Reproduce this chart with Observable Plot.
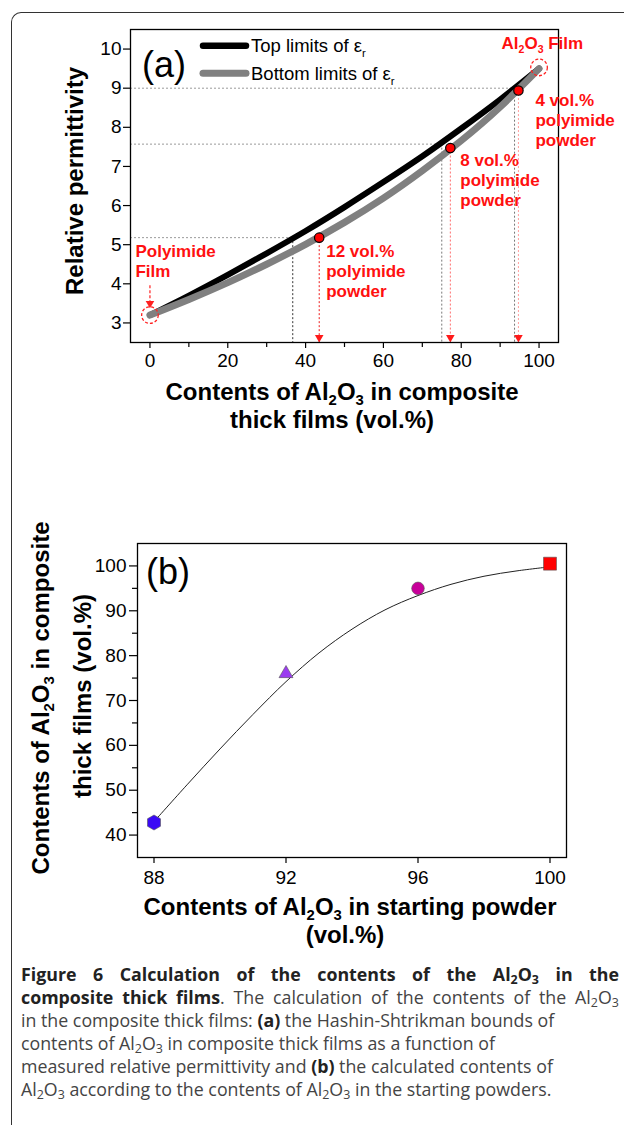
<!DOCTYPE html>
<html><head><meta charset="utf-8">
<script src="https://cdn.jsdelivr.net/npm/d3@7"></script>
<script src="https://cdn.jsdelivr.net/npm/@observablehq/plot@0.6"></script>
<style>
html,body{margin:0;padding:0;background:#fff;overflow:hidden;width:624px;height:1125px}
#page{position:relative;width:624px;height:1125px;overflow:hidden;background:#fff}
#box{position:absolute;left:11px;top:12px;width:800px;height:1300px;border-top:1.5px solid #333;border-left:1.5px solid #333;border-top-left-radius:10px}
#pa{position:absolute;left:0;top:0}
#pb{position:absolute;left:0;top:460px}
#cap{position:absolute;left:21px;top:963px;width:598px;font-family:"Open Sans",sans-serif;font-size:17.8px;line-height:23px;color:#444}
#cap div{white-space:nowrap}
#cap .j{display:flex;justify-content:space-between}
#cap b{color:#222;font-weight:700}
#cap sub{font-size:70%;vertical-align:-0.25em;line-height:0}
svg text.tick{font-size:19px}
</style></head>
<body><div id="page"><div id="box"></div><div id="pa"></div><div id="pb"></div>
<div id="cap">
<div class="j"><b>Figure</b><b>6</b><b>Calculation</b><b>of</b><b>the</b><b>contents</b><b>of</b><b>the</b><b>Al<sub>2</sub>O<sub>3</sub></b><b>in</b><b>the</b></div>
<div class="j"><b>composite</b><b>thick</b><span><b>films</b>.</span><span>The</span><span>calculation</span><span>of</span><span>the</span><span>contents</span><span>of</span><span>the</span><span>Al<sub>2</sub>O<sub>3</sub></span></div>
<div>in the composite thick films: <b>(a)</b> the Hashin-Shtrikman bounds of</div>
<div>contents of Al<sub>2</sub>O<sub>3</sub> in composite thick films as a function of</div>
<div>measured relative permittivity and <b>(b)</b> the calculated contents of</div>
<div>Al<sub>2</sub>O<sub>3</sub> according to the contents of Al<sub>2</sub>O<sub>3</sub> in the starting powders.</div>
</div>
</div>
<script>
// ---------- Panel (a) data ----------
const alContent   = [0, 10, 20, 30, 40, 50, 60, 70, 80, 90, 100];
const topLimit    = [3.20, 3.70, 4.23, 4.78, 5.35, 5.96, 6.60, 7.26, 7.97, 8.71, 9.50];
const bottomLimit = [3.20, 3.60, 4.03, 4.50, 5.01, 5.57, 6.19, 6.89, 7.66, 8.52, 9.50];
const sampleX = [43.5, 77.2, 94.7];
const sampleY = [5.18, 7.47, 8.94];
const sampleLabels = ["12 vol.%\npolyimide\npowder", "8 vol.%\npolyimide\npowder", "4 vol.%\npolyimide\npowder"];
const guideY = [5.18, 7.57, 9.0];
const guideX = [36.7, 75.0, 93.7];
const filmX = [0, 100];
const filmY = [3.2, 9.53];
const filmArrowY = [3.95, 3.5];
const xTicksA = [0, 20, 40, 60, 80, 100];
const xMinorA = [10, 30, 50, 70, 90];
const yTicksA = [3, 4, 5, 6, 7, 8, 9, 10];
const xDomainA = [-5, 105];
const yDomainA = [2.5, 10.5];

// ---------- Panel (b) data ----------
const startAl = [88, 92, 96, 100];
const filmAl  = [42.8, 76.0, 95.0, 100.5];
const fitX = [88, 89, 90, 91, 92, 93, 94, 95, 96, 97, 98, 99, 100];
const fitY = [43.0, 51.2, 59.2, 66.9, 74.2, 80.6, 85.9, 90.2, 93.4, 95.9, 97.7, 98.9, 99.8];
const xTicksB = [88, 92, 96, 100];
const yTicksB = [40, 50, 60, 70, 80, 90, 100];
const yMinorB = [45, 55, 65, 75, 85, 95];
const xDomainB = [87.5, 100.5];
const yDomainB = [35, 105];

// ---------- styles ----------
const FONT = "'Liberation Sans', Arial, sans-serif";
const redShades = ["#ee1c1c", "#ff6b6b", "#ff9c9c"];
const markerStyle = [
  {symbol: "hexagon", fill: "#3a0af5", r: 6.5},
  {symbol: "triangle", fill: "#9b3cf0", r: 5.2},
  {symbol: "circle", fill: "#c8009a", r: 6.3},
  {symbol: "square", fill: "#ff0000", r: 7.3}
];

const curveA = alContent.map((x, i) => ({x, top: topLimit[i], bottom: bottomLimit[i]}));
const samples = sampleX.map((x, i) => ({x, y: sampleY[i], label: sampleLabels[i], c: redShades[i]}));
const guides = guideY.map((y, i) => ({y, x: guideX[i]}));
const films = filmX.map((x, i) => ({x, y: filmY[i]}));

function addText(svg, o) {
  const t = svg.append("text")
    .attr("font-family", FONT)
    .attr("font-size", o.size)
    .attr("font-weight", o.weight || "normal")
    .attr("fill", o.fill || "#000")
    .attr("text-anchor", o.anchor || "start")
    .attr("transform", `translate(${o.x},${o.y})` + (o.rotate ? ` rotate(${o.rotate})` : ""));
  const sh = o.subShift || o.size * 0.3;
  let prevSub = false;
  o.parts.forEach(p => {
    const isSub = Array.isArray(p);
    const s = t.append("tspan").text(isSub ? p[0] : p);
    if (isSub) s.attr("font-size", o.size * 0.62).attr("dy", sh);
    else if (prevSub) s.attr("dy", -sh);
    prevSub = isSub;
  });
  return t;
}

const axisFont = {fontSize: 19, fontFamily: FONT};

// ---------- Panel (a) ----------
const plotA = Plot.plot({
  width: 624, height: 460,
  marginLeft: 130, marginRight: 66, marginTop: 29, marginBottom: 118,
  style: {fontFamily: FONT, fontSize: "19px", color: "#000", background: "transparent", overflow: "visible"},
  x: {domain: xDomainA},
  y: {domain: yDomainA},
  marks: [
    Plot.ruleY(guides, {y: "y", x1: xDomainA[0], x2: "x", stroke: "#9a9a9a", strokeWidth: 1, strokeDasharray: "2,2"}),
    Plot.ruleX(guides, {x: "x", y1: "y", y2: yDomainA[0], stroke: d => d.x < 50 ? "#333" : "#777", strokeWidth: 1, strokeDasharray: "2,2"}),
    Plot.ruleX(samples, {x: "x", y1: "y", y2: yDomainA[0], stroke: "c", strokeWidth: 1, strokeDasharray: "2,2"}),
    Plot.dot(samples, {x: "x", y: yDomainA[0], symbol: "triangle", r: 3.2, rotate: 180, fill: "#ff1a1a", dy: -5}),
    Plot.line(curveA, {x: "x", y: "top", curve: "natural", stroke: "#000", strokeWidth: 6, strokeLinecap: "round"}),
    Plot.line(curveA, {x: "x", y: "bottom", curve: "natural", stroke: "#808080", strokeWidth: 7, strokeLinecap: "round"}),
    Plot.frame({stroke: "#000", strokeWidth: 1.3}),
    Plot.axisY({ticks: yTicksA, tickSize: 7, tickPadding: 2, label: null, strokeWidth: 1.2, ...axisFont}),
    Plot.axisX({ticks: xTicksA, tickSize: 6, tickPadding: 5, label: null, strokeWidth: 1.2, ...axisFont}),
    Plot.axisX({ticks: xMinorA, tickSize: 5, tickFormat: () => "", label: null, strokeWidth: 1.2}),
    Plot.dot(samples, {x: "x", y: "y", r: 4.7, fill: "#ff0000", stroke: "#000", strokeWidth: 1.2}),
    Plot.dot(films, {x: "x", y: "y", r: 8.3, fill: "none", stroke: "#ff2020", strokeWidth: 1.3, strokeDasharray: "3,2"}),
    Plot.ruleX([films[0]], {x: "x", y1: filmArrowY[0], y2: filmArrowY[1], stroke: "#ff2020", strokeWidth: 1.2, strokeDasharray: "3,2"}),
    Plot.dot([films[0]], {x: "x", y: filmArrowY[1], symbol: "triangle", r: 3.2, rotate: 180, fill: "#ff2020"}),
    Plot.text([films[0]], {x: "x", y: "y", text: () => "Polyimide\nFilm", dx: -14.5, dy: -72.5, textAnchor: "start", lineAnchor: "top", lineHeight: 1.18, fontSize: 17, fontWeight: "bold", fill: "#ff1010"}),
    Plot.text([samples[0]], {x: "x", y: "y", text: "label", dx: 7, dy: 5, textAnchor: "start", lineAnchor: "top", lineHeight: 1.18, fontSize: 17, fontWeight: "bold", fill: "#ff1010"}),
    Plot.text([samples[1]], {x: "x", y: "y", text: "label", dx: 10, dy: 3.5, textAnchor: "start", lineAnchor: "top", lineHeight: 1.18, fontSize: 17, fontWeight: "bold", fill: "#ff1010"}),
    Plot.text([samples[2]], {x: "x", y: "y", text: "label", dx: 17, dy: 1, textAnchor: "start", lineAnchor: "top", lineHeight: 1.18, fontSize: 17, fontWeight: "bold", fill: "#ff1010"})
  ]
});
document.getElementById("pa").appendChild(plotA);
const svgA = d3.select(plotA);
const sxA = plotA.scale("x"), syA = plotA.scale("y");

// legend
svgA.append("line").attr("x1", 203).attr("x2", 246).attr("y1", 45.7).attr("y2", 45.7)
  .attr("stroke", "#000").attr("stroke-width", 6.5).attr("stroke-linecap", "round");
svgA.append("line").attr("x1", 203).attr("x2", 246).attr("y1", 73.3).attr("y2", 73.3)
  .attr("stroke", "#808080").attr("stroke-width", 7).attr("stroke-linecap", "round");
addText(svgA, {x: 251, y: 52, size: 18.5, parts: ["Top limits of ε", ["r"]], subShift: 5});
addText(svgA, {x: 251, y: 80, size: 18.5, parts: ["Bottom limits of ε", ["r"]], subShift: 5});
// panel tag
addText(svgA, {x: 142, y: 77, size: 36, parts: ["(a)"]});
// Al2O3 film label
addText(svgA, {x: sxA.apply(filmX[1]) - 37, y: syA.apply(filmY[1]) - 17.5, size: 17, weight: "bold", fill: "#ff1010",
  parts: ["Al", ["2"], "O", ["3"], " Film"], subShift: 4});
// axis titles
addText(svgA, {x: 83, y: 181, size: 24, weight: "bold", anchor: "middle", rotate: -90, parts: ["Relative permittivity"]});
addText(svgA, {x: 342, y: 400, size: 24, weight: "bold", anchor: "middle", parts: ["Contents of Al", ["2"], "O", ["3"], " in composite"], subShift: 5});
addText(svgA, {x: 332, y: 428, size: 24, weight: "bold", anchor: "middle", parts: ["thick films (vol.%)"]});

// ---------- Panel (b) ----------
const pointsB = startAl.map((x, i) => ({x, y: filmAl[i], ...markerStyle[i]}));
const fitB = fitX.map((x, i) => ({x, y: fitY[i]}));
const plotB = Plot.plot({
  width: 624, height: 500,
  marginLeft: 137, marginRight: 58, marginTop: 83, marginBottom: 103,
  style: {fontFamily: FONT, fontSize: "19px", color: "#000", background: "transparent", overflow: "visible"},
  x: {domain: xDomainB},
  y: {domain: yDomainB},
  r: {type: "identity"},
  symbol: {type: "identity"},
  marks: [
    Plot.frame({stroke: "#000", strokeWidth: 1.3}),
    Plot.axisY({ticks: yTicksB, tickSize: 8, tickPadding: 3, label: null, strokeWidth: 1.2, ...axisFont}),
    Plot.axisY({ticks: yMinorB, tickSize: 5, tickFormat: () => "", label: null, strokeWidth: 1.2}),
    Plot.axisX({ticks: xTicksB, tickSize: 6, tickPadding: 7, label: null, strokeWidth: 1.2, ...axisFont}),
    Plot.line(fitB, {x: "x", y: "y", curve: "catmull-rom", stroke: "#222", strokeWidth: 1}),
    Plot.dot(pointsB, {x: "x", y: "y", symbol: "symbol", r: "r", fill: "fill", stroke: "#555", strokeWidth: 0.6})
  ]
});
document.getElementById("pb").appendChild(plotB);
const svgB = d3.select(plotB);
addText(svgB, {x: 146, y: 124, size: 36, parts: ["(b)"]});
addText(svgB, {x: 49, y: 238, size: 24, weight: "bold", anchor: "middle", rotate: -90, parts: ["Contents of Al", ["2"], "O", ["3"], " in composite"], subShift: 5});
addText(svgB, {x: 91, y: 236, size: 24, weight: "bold", anchor: "middle", rotate: -90, parts: ["thick films (vol.%)"]});
addText(svgB, {x: 350, y: 455, size: 24, weight: "bold", anchor: "middle", parts: ["Contents of Al", ["2"], "O", ["3"], " in starting powder"], subShift: 5});
addText(svgB, {x: 345, y: 483, size: 24, weight: "bold", anchor: "middle", parts: ["(vol.%)"]});
</script>
</body></html>
